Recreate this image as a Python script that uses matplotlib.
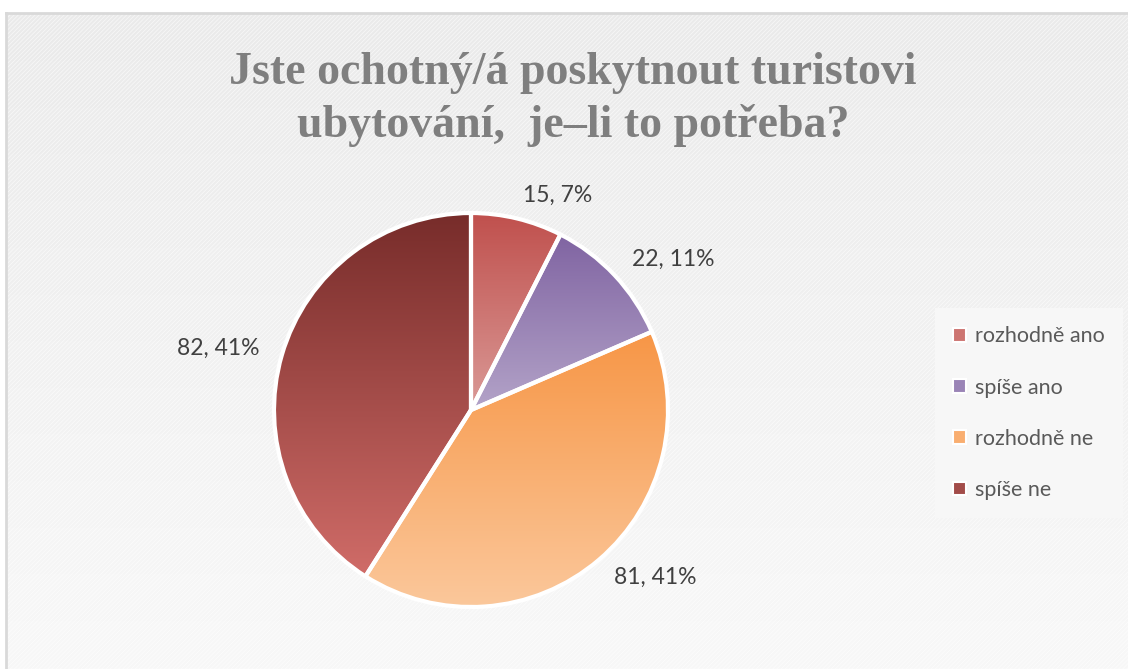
import numpy as np
import matplotlib
matplotlib.use('Agg')
import matplotlib.pyplot as plt
from matplotlib.colors import LinearSegmentedColormap
from matplotlib.patches import Patch, Rectangle

# data
categories = ['rozhodně ano', 'spíše ano', 'rozhodně ne', 'spíše ne']
counts = [15, 22, 81, 82]
percent_labels = ['7%', '11%', '41%', '41%']
# gradient colours (top -> bottom of each slice)
top_colors = ['#C0504D', '#8064A2', '#F79646', '#772C2A']
bottom_colors = ['#DA9A97', '#B3A3C8', '#FBC89C', '#D06C68']

title = 'Jste ochotný/á poskytnout turistovi\nubytování,  je–li to potřeba?'

plt.rcParams['font.family'] = ['Lato', 'DejaVu Sans']

W, H = 1128, 669
fig = plt.figure(figsize=(W / 100, H / 100), dpi=100)
fig.patch.set_facecolor('white')

# --- chart area background (light grey, fine diagonal pattern) ---
bg = fig.add_axes([6 / W, 0, 1 - 6 / W, (H - 13) / H])
bg.set_xlim(0, 1)
bg.set_ylim(0, 1)
bg_grad = LinearSegmentedColormap.from_list('bg', ['#F8F8F8', '#EAEAEA'])
bg.imshow(np.linspace(0, 1, 256).reshape(-1, 1), cmap=bg_grad, origin='lower',
          extent=[0, 1, 0, 1], aspect='auto', zorder=0)
plt.rcParams['hatch.linewidth'] = 0.6
bg.add_patch(Rectangle((0, 0), 1, 1, fill=False, hatch='////////',
                       edgecolor=(1, 1, 1, 0.6), linewidth=0, zorder=1))
bg.set_xticks([])
bg.set_yticks([])
for side in ['right', 'bottom']:
    bg.spines[side].set_visible(False)
for side in ['left', 'top']:
    bg.spines[side].set_color('#D9D9D9')
    bg.spines[side].set_linewidth(2)

# --- title ---
fig.text(573 / W, 1 - 52 / H, title, ha='center', va='top',
         fontsize=33, fontweight='bold', color='#7F7F7F',
         family=['Liberation Serif', 'DejaVu Serif'], linespacing=1.3)

# --- pie ---
R = 197
cx, cy = 471, 410
half = R * 1.3
ax = fig.add_axes([(cx - half) / W, (H - cy - half) / H, 2 * half / W, 2 * half / H])
ax.set_xlim(-1.3, 1.3)
ax.set_ylim(-1.3, 1.3)
ax.set_aspect('equal')
ax.axis('off')

labels = [f'{c}, {p}' for c, p in zip(counts, percent_labels)]
wedges, texts = ax.pie(counts, startangle=90, counterclock=False, radius=1,
                       labels=labels, labeldistance=1.12,
                       wedgeprops=dict(facecolor='none', edgecolor='white', linewidth=3),
                       textprops=dict(fontsize=16.5, color='#404040'))
for w in wedges:
    w.set_zorder(5)

grad = np.linspace(0, 1, 256).reshape(-1, 1)
for w, c0, c1 in zip(wedges, top_colors, bottom_colors):
    verts = w.get_path().vertices
    x0, y0 = verts.min(axis=0)
    x1, y1 = verts.max(axis=0)
    cmap = LinearSegmentedColormap.from_list('g', [c0, c1])
    im = ax.imshow(grad, cmap=cmap, extent=[x0, x1, y0, y1], origin='upper',
                   aspect='auto', zorder=2)
    im.set_clip_path(w)
ax.set_xlim(-1.3, 1.3)
ax.set_ylim(-1.3, 1.3)

# --- legend ---
mid_colors = ['#CD7571', '#9A84B6', '#F9AE70', '#A24C49']
handles = [Patch(facecolor=c, edgecolor='white', linewidth=1.5) for c in mid_colors]
leg = fig.legend(handles, categories, loc='upper left',
                 bbox_to_anchor=(935 / W, 1 - 308 / H),
                 fontsize=15.5, frameon=True, fancybox=False,
                 facecolor='#F7F7F7', edgecolor='none', framealpha=1,
                 handlelength=0.6, handleheight=0.6, handletextpad=0.4,
                 labelspacing=1.45, borderpad=0.85, borderaxespad=0)
for t in leg.get_texts():
    t.set_color('#595959')

fig.savefig('out.png', dpi=100)
